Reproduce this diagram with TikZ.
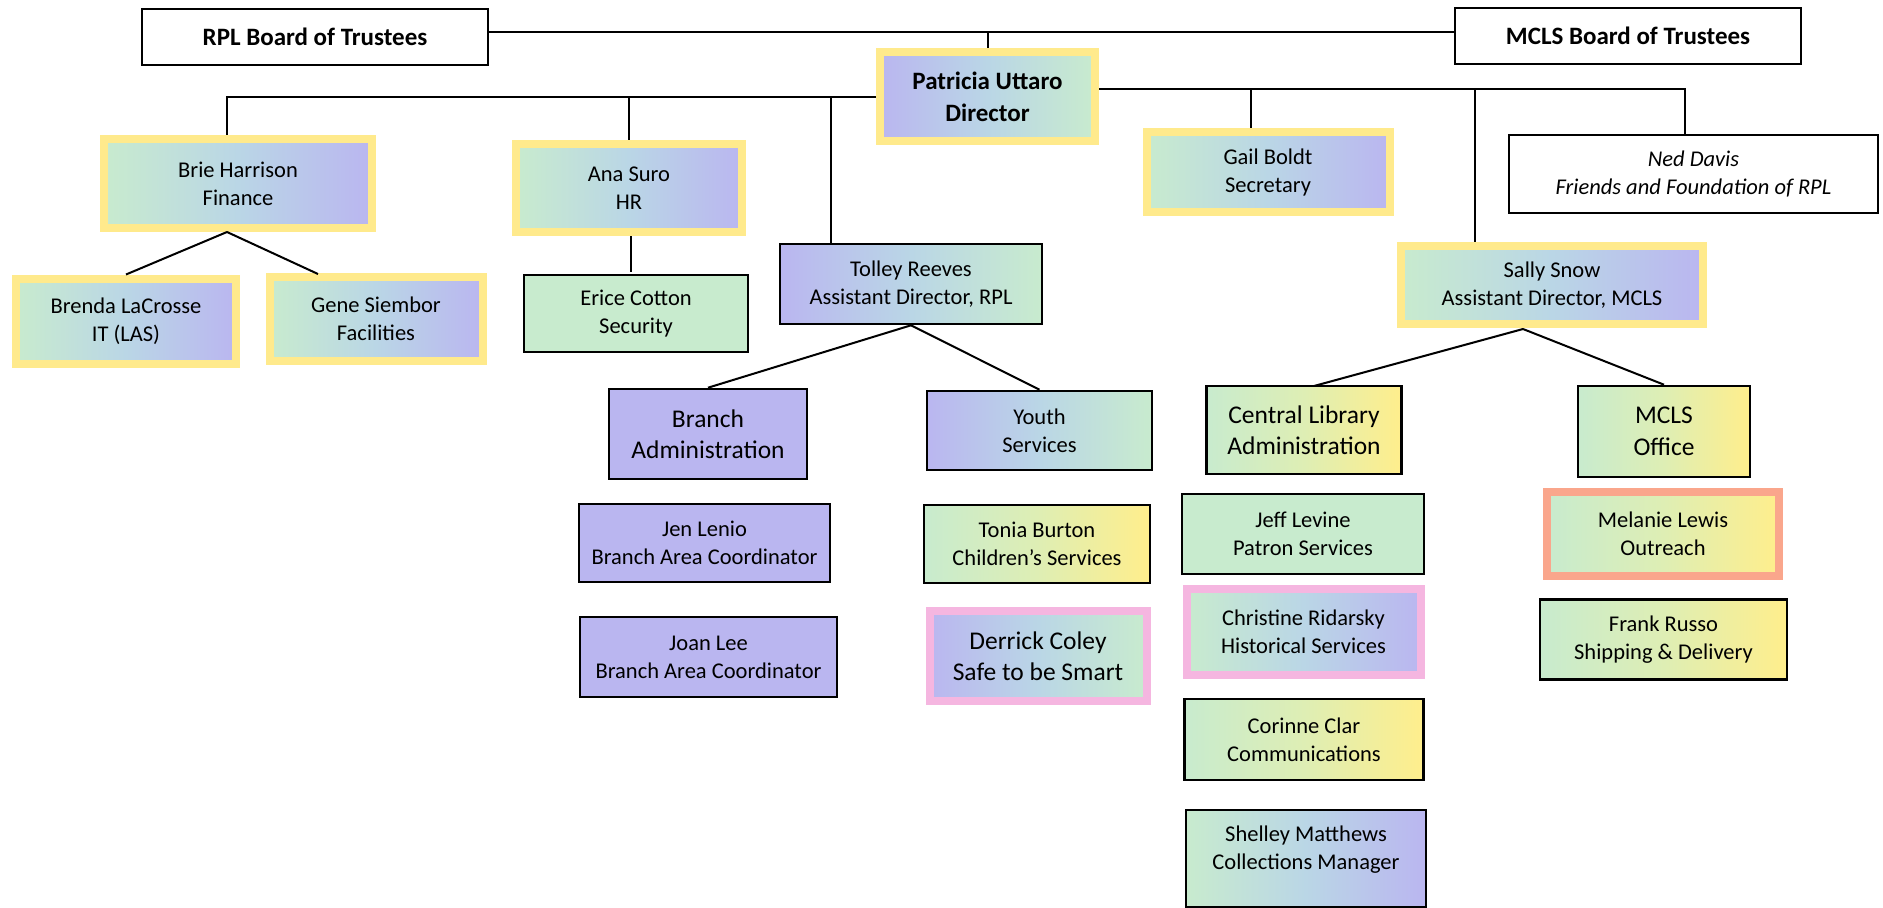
\documentclass[tikz,border=0pt]{standalone}
\usepackage{fontspec}
\setmainfont{Carlito}
\begin{document}
\begin{tikzpicture}[x=1pt,y=-1pt,
  every node/.style={inner sep=0pt,align=center,font=\fontsize{22.5}{28}\selectfont},
  big/.style={font=\fontsize{25.5}{31.5}\selectfont},
  boldtxt/.style={font=\fontsize{25}{32}\selectfont\bfseries},
  itxt/.style={font=\fontsize{22.5}{28}\selectfont\itshape},
  plainbox/.style={draw=black,line width=2.6pt,fill=white},
  blackbox/.style={draw=black,line width=2.6pt,shading=axis,shading angle=90},
  ybox/.style={draw=ybord,line width=8pt,shading=axis,shading angle=90},
  pbox/.style={draw=pbord,line width=8pt,shading=axis,shading angle=90},
  sbox/.style={draw=sbord,line width=8pt,shading=axis,shading angle=90},
  pg/.style={left color=cpur,right color=cgrn,middle color=cmid},
  gp/.style={left color=cgrn,right color=cpur,middle color=cmid},
  gy/.style={left color=cgrn,right color=cyel,middle color=cgy},
  pp/.style={left color=cpur,right color=cpur},
  gg/.style={left color=cgrn,right color=cgrn},
  conn/.style={draw=black,line width=2pt}
]
\definecolor{cpur}{RGB}{186,182,240}
\definecolor{cgrn}{RGB}{200,235,206}
\definecolor{cmid}{RGB}{186,214,230}
\definecolor{cyel}{RGB}{255,238,140}
\definecolor{cgy}{RGB}{222,238,180}
\definecolor{ybord}{RGB}{255,234,140}
\definecolor{pbord}{RGB}{245,182,224}
\definecolor{sbord}{RGB}{250,166,140}
\useasboundingbox[fill=white] (0,0) rectangle (1883,908);

% top row
\node[plainbox,boldtxt,minimum width=346pt,minimum height=56pt] (rpl) at (315,37) {RPL Board of Trustees};
\node[plainbox,boldtxt,minimum width=346pt,minimum height=56pt] (mcls) at (1628,36) {MCLS Board of Trustees};
\node[ybox,pg,boldtxt,minimum width=215pt,minimum height=89pt] (pat) at (987.5,96.7) {Patricia Uttaro\\Director};

% second row
\node[ybox,gp,minimum width=268pt,minimum height=89pt] (brie) at (238,183.5) {Brie Harrison\\Finance};
\node[ybox,gp,minimum width=226pt,minimum height=88pt] (ana) at (629,188) {Ana Suro\\HR};
\node[ybox,gp,minimum width=243pt,minimum height=80pt] (gail) at (1268,172) {Gail Boldt\\Secretary};
\node[plainbox,itxt,minimum width=369pt,minimum height=78pt] (ned) at (1693.5,174) {Ned Davis\\Friends and Foundation of RPL};

% third row
\node[ybox,gp,minimum width=220pt,minimum height=85pt] (brenda) at (126,321) {Brenda LaCrosse\\IT (LAS)};
\node[ybox,gp,minimum width=213pt,minimum height=84.5pt] (gene) at (376,319) {Gene Siembor\\Facilities};
\node[blackbox,gg,minimum width=224pt,minimum height=77pt] (erice) at (636,313.5) {Erice Cotton\\Security};
\node[blackbox,pg,minimum width=262pt,minimum height=80pt] (tolley) at (911,284) {Tolley Reeves\\Assistant Director, RPL};
\node[ybox,gp,minimum width=302pt,minimum height=78.5pt] (sally) at (1552,285) {Sally Snow\\Assistant Director, MCLS};

% departments
\node[blackbox,pp,big,minimum width=198pt,minimum height=90pt] (branch) at (708,434) {Branch\\Administration};
\node[blackbox,pg,minimum width=225pt,minimum height=79pt] (youth) at (1039.5,430.5) {Youth\\Services};
\node[blackbox,gy,big,minimum width=195.5pt,minimum height=88pt] (central) at (1304,430) {Central Library\\Administration};
\node[blackbox,gy,big,minimum width=172pt,minimum height=91pt] (office) at (1664,431.5) {MCLS\\Office};

% staff
\node[blackbox,pp,minimum width=251pt,minimum height=78pt] (jen) at (704.5,543) {Jen Lenio\\Branch Area Coordinator};
\node[blackbox,pp,minimum width=257pt,minimum height=80pt] (joan) at (708.5,657) {Joan Lee\\Branch Area Coordinator};
\node[blackbox,gy,minimum width=226pt,minimum height=78pt] (tonia) at (1037,544) {Tonia Burton\\Children’s Services};
\node[pbox,pg,big,minimum width=217pt,minimum height=89.5pt] (derrick) at (1038,656) {Derrick Coley\\Safe to be Smart};
\node[blackbox,gg,minimum width=242pt,minimum height=80pt] (jeff) at (1303,534) {Jeff Levine\\Patron Services};
\node[pbox,gp,minimum width=234pt,minimum height=86.5pt] (christine) at (1303.5,632) {Christine Ridarsky\\Historical Services};
\node[blackbox,gy,minimum width=239.5pt,minimum height=81pt] (corinne) at (1304,739.5) {Corinne Clar\\Communications};
\node[blackbox,gp,minimum width=240pt,minimum height=97pt] (shelley) at (1306,858.5) {};
\node at ([yshift=9pt]shelley.center) {Shelley Matthews\\Collections Manager};
\node[sbox,gy,minimum width=232pt,minimum height=84pt] (melanie) at (1663,534) {Melanie Lewis\\Outreach};
\node[blackbox,gy,minimum width=247pt,minimum height=80pt] (frank) at (1663.5,639.5) {Frank Russo\\Shipping \& Delivery};

% connectors
\coordinate (tl) at (0,32);
\draw[conn] (rpl.east |- tl) -- (mcls.west |- tl);
\draw[conn] (pat.north |- tl) -- (pat.north);

\coordinate (lb) at (227,97);
\coordinate (td) at (831,97);
\draw[conn] (pat.west |- lb) -- (lb) -- (lb |- brie.north);
\draw[conn] (ana.north |- lb) -- (ana.north);
\draw[conn] (td) -- (td |- tolley.north);

\coordinate (rb) at (1685,88.5);
\coordinate (gd) at (1251,88.5);
\coordinate (sd) at (1475,88.5);
\draw[conn] (pat.east |- rb) -- (rb) -- (rb |- ned.north);
\draw[conn] (gd) -- (gd |- gail.north);
\draw[conn] (sd) -- (sd |- sally.north);

\coordinate (ba) at (227,232);
\coordinate (gtop) at (318,274);
\draw[conn] (ba) -- (brenda.north);
\draw[conn] (ba) -- (gtop);

\draw[conn] (ana.south -| erice.north) ++(-5,0) -- ++(0,36);

\draw[conn] (tolley.south) -- (branch.north);
\draw[conn] (tolley.south) -- (youth.north);

\coordinate (sa) at (1523,329);
\coordinate (ctop) at (1314,386);
\draw[conn] (sa) -- (ctop);
\draw[conn] (sa) -- (office.north);
\end{tikzpicture}
\end{document}
